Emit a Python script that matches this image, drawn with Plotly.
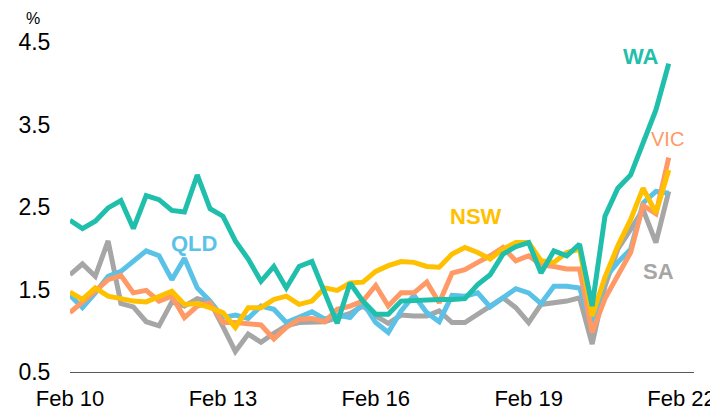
import plotly.graph_objects as go
import pandas as pd

# Quarterly dates Feb 2010 .. Nov 2021
dates = pd.date_range("2010-02-01", "2021-11-01", freq="3MS")

nsw = [1.47, 1.38, 1.52, 1.42, 1.39, 1.36, 1.35, 1.42, 1.48, 1.32,
       1.33, 1.28, 1.22, 1.04, 1.28, 1.28, 1.38, 1.42, 1.32, 1.36,
       1.52, 1.49, 1.58, 1.59, 1.72, 1.79, 1.84, 1.83, 1.78, 1.77,
       1.93, 2.01, 1.95, 1.87, 1.99, 2.07, 2.07, 1.85, 1.83, 1.95,
       1.99, 1.18, 1.65, 2.03, 2.35, 2.73, 2.43, 2.95]
vic = [1.22, 1.34, 1.48, 1.62, 1.67, 1.46, 1.49, 1.36, 1.42, 1.16,
       1.30, 1.34, 1.10, 1.10, 1.08, 1.07, 0.90, 1.04, 1.14, 1.15,
       1.11, 1.26, 1.30, 1.36, 1.55, 1.30, 1.46, 1.46, 1.59, 1.34,
       1.70, 1.74, 1.83, 1.91, 2.01, 1.85, 1.91, 1.80, 1.78, 1.75,
       1.75, 0.98, 1.39, 1.68, 1.95, 2.52, 2.42, 3.10]
qld = [1.43, 1.28, 1.46, 1.66, 1.72, 1.85, 1.97, 1.91, 1.62, 1.88,
       1.52, 1.36, 1.16, 1.19, 1.15, 1.30, 1.26, 1.10, 1.16, 1.23,
       1.14, 1.19, 1.16, 1.34, 1.10, 0.98, 1.24, 1.43, 1.22, 1.11,
       1.43, 1.42, 1.46, 1.29, 1.40, 1.51, 1.46, 1.33, 1.54, 1.54,
       1.52, 1.06, 1.64, 1.83, 1.99, 2.55, 2.69, 2.67]
wa = [2.34, 2.24, 2.33, 2.49, 2.58, 2.24, 2.64, 2.59, 2.46, 2.44,
      2.89, 2.48, 2.39, 2.09, 1.87, 1.60, 1.78, 1.52, 1.78, 1.84,
      1.46, 1.09, 1.58, 1.36, 1.20, 1.20, 1.36, 1.37, 1.38, 1.38,
      1.38, 1.39, 1.56, 1.68, 1.93, 2.02, 2.07, 1.70, 1.97, 1.91,
      2.05, 1.30, 2.39, 2.73, 2.89, 3.30, 3.68, 4.24]
sa = [1.68, 1.81, 1.66, 2.09, 1.33, 1.29, 1.11, 1.06, 1.35, 1.30,
      1.39, 1.35, 1.05, 0.75, 0.96, 0.86, 0.97, 1.06, 1.10, 1.10,
      1.11, 1.16, 1.21, 1.30, 1.18, 1.09, 1.19, 1.18, 1.18, 1.24,
      1.10, 1.10, 1.20, 1.30, 1.40, 1.28, 1.10, 1.32, 1.34, 1.36,
      1.40, 0.84, 1.54, 1.99, 2.23, 2.47, 2.07, 2.69]

series = [
    ("SA", sa, "#A6A6A6"),
    ("QLD", qld, "#5BC2E7"),
    ("VIC", vic, "#FF9966"),
    ("NSW", nsw, "#FFC000"),
    ("WA", wa, "#1FBFAB"),
]

tick_vals = ["2010-02-01", "2013-02-01", "2016-02-01", "2019-02-01", "2022-02-01"]
tick_text = ["Feb 10", "Feb 13", "Feb 16", "Feb 19", "Feb 22"]

fig = go.Figure()
for name, vals, col in series:
    fig.add_trace(go.Scatter(x=dates, y=vals, mode="lines", name=name,
                             line=dict(color=col, width=5),
                             hoverinfo="skip"))

font_family = "Liberation Sans, Arial, sans-serif"

# page body has an 8px default margin -> figure drawn shifted by OFF
OFF = 8
W, H = 718, 413
L, T = 70 - OFF, 34 - OFF
R = W - (694 - OFF)
B = H - (372 - OFF)
pw, ph = W - L - R, H - T - B

def px_to_paper(px, py):
    return (px - OFF - L) / pw, 1 - (py - OFF - T) / ph

labels = [
    ("WA", 641, 56, "#1FBFAB", True, 22),
    ("VIC", 667, 139, "#FF9966", False, 20),
    ("NSW", 476, 216, "#FFC000", True, 22),
    ("QLD", 194, 243, "#5BC2E7", True, 22),
    ("SA", 658, 271, "#A6A6A6", True, 22),
]
for txt, px, py, col, bold, sz in labels:
    ax, ay = px_to_paper(px, py)
    fig.add_annotation(x=ax, y=ay, xref="paper", yref="paper",
                       text=f"<b>{txt}</b>" if bold else txt, showarrow=False,
                       font=dict(color=col, size=sz, family=font_family),
                       xanchor="center", yanchor="middle")
ax, ay = px_to_paper(33, 9)
fig.add_annotation(x=ax, y=ay, xref="paper", yref="paper",
                   text="%", showarrow=False, xanchor="center", yanchor="top",
                   borderpad=0,
                   font=dict(color="#000000", size=16, family=font_family))

fig.update_layout(
    width=W, height=H,
    margin=dict(l=L, r=R, t=T, b=B),
    paper_bgcolor="white", plot_bgcolor="white",
    showlegend=False,
    font=dict(family=font_family, color="#000000"),
    xaxis=dict(type="date", range=["2010-02-01", "2022-05-01"],
               tickvals=tick_vals, ticktext=tick_text,
               showgrid=False, zeroline=False, automargin=False,
               showline=True, linecolor="#595959", linewidth=1,
               ticks="outside", ticklen=7, tickcolor="rgba(0,0,0,0)",
               tickfont=dict(size=22, color="#000000")),
    yaxis=dict(range=[0.5, 4.6], tickvals=[0.5, 1.5, 2.5, 3.5, 4.5],
               ticktext=["0.5", "1.5", "2.5", "3.5", "4.5"],
               showgrid=False, zeroline=False, showline=False, automargin=False,
               ticks="outside", ticklen=14, tickcolor="rgba(0,0,0,0)",
               tickfont=dict(size=23, color="#000000")),
)

fig.write_html("out.html")
